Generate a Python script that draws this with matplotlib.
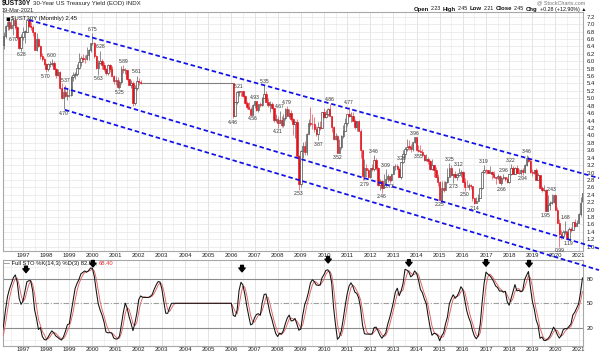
import numpy as np
import pandas as pd
import matplotlib
matplotlib.use("Agg")
import matplotlib.pyplot as plt
from matplotlib.offsetbox import TextArea, HPacker, AnchoredOffsetbox

# ---------------- data (monthly, $UST30Y) ----------------
# segment A: Jan 1995 .. Feb 2002 (1995 / early 1996 only warm up the stochastic)
close_a = [
    7.73, 7.44, 7.43, 7.33, 6.66, 6.63, 6.85, 6.66, 6.51, 6.33, 6.17, 5.95,
    6.05, 6.45, 6.67, 6.96, 7.06, 6.89, 6.97, 7.12, 6.92, 6.64, 6.35, 6.64,
    6.79, 6.80, 7.10, 6.94, 6.91, 6.78, 6.30, 6.61, 6.40, 6.15, 6.05, 5.92,
    5.80, 5.92, 5.93, 5.95, 5.80, 5.62, 5.72, 5.27, 5.00, 5.16, 5.06, 5.09,
    5.09, 5.58, 5.63, 5.66, 5.83, 5.97, 6.10, 6.06, 6.05, 6.16, 6.29, 6.48,
    6.49, 6.14, 5.83, 5.96, 6.01, 5.90, 5.78, 5.67, 5.89, 5.79, 5.61, 5.46,
    5.50, 5.31, 5.44, 5.79, 5.75, 5.76, 5.52, 5.37, 5.42, 4.87, 5.29, 5.47,
    5.43, 5.42]
high_a = [
    7.95, 7.75, 7.58, 7.48, 7.34, 6.75, 6.97, 6.95, 6.70, 6.52, 6.38, 6.18,
    6.14, 6.52, 6.78, 6.97, 7.10, 7.19, 7.14, 7.14, 7.16, 6.95, 6.66, 6.73,
    6.92, 6.84, 7.12, 7.17, 7.06, 6.98, 6.79, 6.75, 6.62, 6.45, 6.22, 6.12,
    5.96, 5.96, 6.01, 6.05, 6.00, 5.83, 5.78, 5.73, 5.40, 5.29, 5.37, 5.24,
    5.25, 5.60, 5.70, 5.70, 5.92, 6.22, 6.13, 6.19, 6.18, 6.37, 6.32, 6.50,
    6.75, 6.52, 6.17, 6.02, 6.28, 6.05, 5.98, 5.81, 5.92, 5.93, 5.87, 5.64,
    5.61, 5.58, 5.49, 5.86, 5.89, 5.82, 5.77, 5.53, 5.50, 5.46, 5.35, 5.61,
    5.54, 5.50]
low_a = [
    7.70, 7.42, 7.35, 7.28, 6.63, 6.47, 6.55, 6.62, 6.45, 6.28, 6.13, 5.94,
    5.93, 6.02, 6.32, 6.62, 6.83, 6.85, 6.86, 6.70, 6.88, 6.62, 6.32, 6.28,
    6.56, 6.50, 6.79, 6.91, 6.85, 6.68, 6.29, 6.28, 6.38, 6.05, 6.00, 5.89,
    5.70, 5.74, 5.84, 5.87, 5.79, 5.55, 5.59, 5.26, 4.98, 4.70, 5.03, 4.96,
    5.04, 5.07, 5.46, 5.51, 5.59, 5.80, 5.88, 5.97, 5.96, 6.03, 6.03, 6.25,
    6.44, 6.10, 5.79, 5.63, 5.93, 5.80, 5.74, 5.64, 5.64, 5.72, 5.59, 5.39,
    5.36, 5.27, 5.25, 5.39, 5.67, 5.65, 5.50, 5.35, 5.29, 4.79, 4.82, 5.23,
    5.37, 5.38]

# no data Mar 2002 .. Jan 2006: flat at the last value
gap_value = 5.42
gap_months = 47

# segment B: Feb 2006 .. Mar 2021
close_b = [
    4.51, 4.90, 5.17, 5.21, 5.19, 5.07, 4.88, 4.77, 4.72, 4.56, 4.81,
    4.93, 4.68, 4.84, 4.81, 5.01, 5.12, 4.91, 4.83, 4.84, 4.73, 4.41, 4.45,
    4.33, 4.42, 4.29, 4.48, 4.71, 4.53, 4.60, 4.43, 4.31, 4.36, 3.45, 2.69,
    3.58, 3.71, 3.56, 4.03, 4.34, 4.32, 4.30, 4.17, 4.03, 4.24, 4.20, 4.64,
    4.49, 4.57, 4.72, 4.53, 4.22, 3.91, 3.99, 3.52, 3.69, 3.99, 4.11, 4.34,
    4.57, 4.51, 4.51, 4.40, 4.22, 4.38, 4.13, 3.60, 2.90, 3.13, 3.06, 2.89,
    3.11, 3.09, 3.35, 3.12, 2.67, 2.76, 2.59, 2.67, 2.82, 2.90, 2.81, 2.95,
    3.17, 3.17, 3.10, 2.89, 3.28, 3.50, 3.64, 3.70, 3.69, 3.63, 3.81, 3.96,
    3.60, 3.59, 3.56, 3.47, 3.33, 3.36, 3.32, 3.09, 3.21, 3.07, 2.89, 2.75,
    2.25, 2.59, 2.54, 2.75, 2.88, 3.11, 2.92, 2.95, 2.87, 2.93, 3.00, 3.01,
    2.75, 2.62, 2.61, 2.67, 2.64, 2.30, 2.18, 2.23, 2.32, 2.58, 3.02, 3.07,
    3.06, 3.00, 3.01, 2.96, 2.87, 2.84, 2.90, 2.73, 2.86, 2.88, 2.83, 2.74,
    2.95, 3.13, 2.97, 3.11, 3.00, 2.98, 3.08, 3.02, 3.21, 3.39, 3.30, 3.02,
    3.00, 3.08, 2.81, 2.93, 2.58, 2.52, 2.53, 1.96, 2.12, 2.17, 2.21, 2.39,
    2.00, 1.65, 1.35, 1.28, 1.41, 1.41, 1.20, 1.49, 1.46, 1.66, 1.57, 1.65,
    1.87, 2.17, 2.45]
high_b = [
    5.42, 4.91, 5.20, 5.21, 5.21, 5.21, 5.08, 4.92, 4.89, 4.76, 4.84,
    4.93, 4.93, 4.86, 4.90, 5.03, 5.35, 5.21, 5.02, 4.94, 4.90, 4.74, 4.59,
    4.52, 4.67, 4.51, 4.57, 4.73, 4.79, 4.72, 4.69, 4.46, 4.40, 4.43, 3.46,
    3.62, 3.83, 3.84, 4.06, 4.44, 4.77, 4.58, 4.49, 4.25, 4.36, 4.40, 4.64,
    4.75, 4.69, 4.74, 4.86, 4.51, 4.25, 4.07, 4.02, 3.90, 4.00, 4.29, 4.47,
    4.59, 4.77, 4.62, 4.62, 4.45, 4.40, 4.41, 4.16, 3.60, 3.36, 3.24, 3.12,
    3.11, 3.22, 3.46, 3.38, 3.16, 2.82, 2.79, 2.97, 3.09, 2.97, 2.91, 2.97,
    3.17, 3.22, 3.22, 3.14, 3.26, 3.60, 3.69, 3.90, 3.88, 3.77, 3.82, 3.96,
    3.96, 3.73, 3.73, 3.63, 3.50, 3.51, 3.41, 3.33, 3.37, 3.21, 3.14, 2.97,
    2.77, 2.78, 2.76, 2.77, 3.11, 3.25, 3.20, 2.97, 3.05, 3.00, 3.12, 3.06,
    3.03, 2.84, 2.79, 2.73, 2.70, 2.64, 2.30, 2.33, 2.42, 2.59, 3.04, 3.19,
    3.10, 3.08, 3.17, 3.04, 3.05, 2.89, 2.95, 2.92, 2.90, 2.96, 2.88, 2.87,
    2.95, 3.22, 3.17, 3.14, 3.20, 3.10, 3.09, 3.11, 3.22, 3.46, 3.44, 3.36,
    3.09, 3.08, 3.13, 2.98, 2.94, 2.64, 2.67, 2.56, 2.40, 2.24, 2.43, 2.40,
    2.42, 2.07, 1.75, 1.46, 1.46, 1.68, 1.46, 1.54, 1.52, 1.67, 1.74, 1.71,
    1.90, 2.34, 2.45]
low_b = [
    4.46, 4.51, 4.86, 5.05, 5.05, 5.04, 4.86, 4.70, 4.70, 4.58, 4.56,
    4.75, 4.66, 4.62, 4.77, 4.80, 5.01, 4.89, 4.77, 4.64, 4.70, 4.35, 4.36,
    4.21, 4.33, 4.23, 4.22, 4.42, 4.51, 4.48, 4.39, 4.01, 3.94, 3.44, 2.53,
    2.62, 3.40, 3.46, 3.48, 4.04, 4.26, 4.18, 4.10, 3.99, 3.87, 4.14, 4.19,
    4.46, 4.48, 4.52, 4.52, 4.09, 3.89, 3.87, 3.52, 3.64, 3.63, 3.92, 4.12,
    4.26, 4.49, 4.37, 4.38, 4.18, 4.13, 4.12, 3.39, 2.81, 2.79, 2.89, 2.85,
    2.85, 3.03, 3.05, 3.07, 2.64, 2.53, 2.46, 2.57, 2.74, 2.75, 2.73, 2.78,
    2.98, 3.06, 3.10, 2.87, 2.82, 3.25, 3.43, 3.59, 3.62, 3.56, 3.58, 3.79,
    3.58, 3.55, 3.56, 3.44, 3.31, 3.32, 3.24, 3.06, 3.07, 2.87, 2.89, 2.63,
    2.25, 2.25, 2.48, 2.52, 2.72, 2.89, 2.91, 2.73, 2.84, 2.80, 2.91, 2.87,
    2.74, 2.50, 2.60, 2.53, 2.55, 2.24, 2.14, 2.18, 2.23, 2.30, 2.56, 2.98,
    2.95, 2.99, 2.98, 2.83, 2.86, 2.69, 2.81, 2.71, 2.66, 2.83, 2.76, 2.71,
    2.71, 2.93, 2.95, 2.95, 2.99, 2.96, 2.94, 2.94, 3.00, 3.17, 3.28, 2.98,
    2.90, 2.97, 2.81, 2.84, 2.57, 2.47, 2.50, 1.95, 1.97, 2.00, 2.15, 2.19,
    1.99, 1.65, 0.99, 1.21, 1.24, 1.35, 1.20, 1.19, 1.39, 1.44, 1.52, 1.58,
    1.64, 1.84, 2.21]

first_year = 1995
first_open = 7.88          # open of Jan 1995
last_open = 2.23           # open of Mar 2021 (header)

# swing labels: (year-month, 'h' above high / 'l' below low, text)
label_months = ['1996-08', '1996-12', '1998-01', '1998-04', '1998-10', '1998-11',
                '2000-01', '2000-04', '2000-05', '2001-03', '2001-05', '2001-12',
                '2006-02', '2006-05', '2006-12', '2007-01', '2007-06', '2008-01',
                '2008-02', '2008-06', '2008-12', '2009-10', '2010-04', '2010-08',
                '2011-02', '2011-10', '2012-03', '2012-07', '2012-09', '2012-11',
                '2013-05', '2013-12', '2014-02', '2015-01', '2015-06', '2015-08',
                '2015-11', '2016-02', '2016-07', '2016-12', '2017-09', '2017-10',
                '2018-02', '2018-08', '2018-10', '2019-08', '2019-11', '2020-03',
                '2020-06', '2020-08']
label_sides = ['l', 'l', 'l', 'h', 'l', 'h',
               'h', 'l', 'h', 'l', 'h', 'h',
               'l', 'h', 'l', 'h', 'h', 'l',
               'h', 'h', 'l', 'l', 'h', 'l',
               'h', 'l', 'h', 'l', 'h', 'l',
               'h', 'h', 'l', 'l', 'h', 'l',
               'h', 'l', 'l', 'h', 'l', 'h',
               'h', 'l', 'h', 'l', 'h', 'l',
               'h', 'l']
label_texts = ['6.70', '6.28', '5.70', '6.00', '4.70', '5.37',
               '6.75', '5.63', '6.28', '5.25', '5.89', '5.61',
               '4.46', '5.21', '4.56', '4.93', '5.35', '4.21',
               '4.67', '4.79', '2.53', '3.87', '4.86', '3.52',
               '4.77', '2.79', '3.46', '2.46', '3.09', '2.73',
               '3.26', '3.96', '3.55', '2.25', '3.25', '2.73',
               '3.12', '2.50', '2.14', '3.19', '2.66', '2.96',
               '3.22', '2.94', '3.46', '1.95', '2.43', '0.99',
               '1.68', '1.19']

# drawn trend channel lines: (date, yield) end points
trend_upper = [(1997.26, 7.11), (2021.88, 2.85)]
trend_mid = [(1998.77, 5.28), (2021.88, 0.95)]
trend_low = [(1998.81, 4.69), (2021.88, 0.37)]

# arrow annotations on the stochastic panel (date, tip level)
arrow_dates = [1997.13, 2000.02, 2006.46, 2010.18, 2013.67, 2017.00, 2018.86]
arrow_tips = [88, 95, 89, 100, 96, 96, 95]

years = list(range(1997, 2022))
yticks_main = [round(1.0 + 0.2 * i, 1) for i in range(32)]

# ---------------- assemble series ----------------
close = close_a + [gap_value] * gap_months + close_b
high = high_a + [gap_value] * gap_months + high_b
low = low_a + [gap_value] * gap_months + low_b
n = len(close)
t = first_year + np.arange(n) / 12.0
opens = [first_open] + close[:-1]
opens[-1] = last_open
close = np.array(close); opens = np.array(opens)
high = np.maximum.reduce([np.array(high), opens, close])
low = np.minimum.reduce([np.array(low), opens, close])
gap_start = len(close_a) - 1              # Feb 2002
gap_end = len(close_a) + gap_months       # Feb 2006
is_gap = np.zeros(n, bool)
is_gap[len(close_a):gap_end] = True

def midx(s):
    y, m = s.split('-')
    return (int(y) - first_year) * 12 + int(m) - 1

# Full stochastic %K(14,3) %D(3)
sc, sh, sl = pd.Series(close), pd.Series(high), pd.Series(low)
hh = sh.rolling(14, min_periods=1).max()
ll = sl.rolling(14, min_periods=1).min()
rng = (hh - ll).values
raw = np.where(rng > 1e-9, 100 * (sc.values - ll.values) / np.where(rng > 1e-9, rng, 1), 50.0)
pk = pd.Series(raw).rolling(3, min_periods=1).mean()
pd_ = pk.rolling(3, min_periods=1).mean()

# ---------------- figure ----------------
W, H = 600, 351
fig = plt.figure(figsize=(W / 100, H / 100), dpi=100)
fig.patch.set_facecolor('white')
FONT = ['Liberation Sans', 'DejaVu Sans']
plt.rcParams['font.family'] = FONT

def fx(px): return px / W
def fy(py): return 1 - py / H

ax = fig.add_axes([fx(3), fy(251), fx(583) - fx(3), fy(12) - fy(251)])
ax2 = fig.add_axes([fx(3), fy(345.5), fx(583) - fx(3), fy(260) - fy(345.5)])
ax.set_zorder(3)

xlo, xhi = 1996.136, 2021.19
for a in (ax, ax2):
    a.set_xlim(xlo, xhi)
    for s in a.spines.values():
        s.set_color('#a8a8a8'); s.set_linewidth(0.8)
    for yr in range(1996, 2022):
        a.axvline(yr, color='#d9d9d9', lw=0.5, zorder=0)
        a.axvline(yr + 0.5, color='#ececec', lw=0.5, zorder=0)
    a.set_xticks(years)
    a.set_xticklabels([str(y) for y in years])
    a.yaxis.tick_right()
    a.tick_params(axis='x', length=0, labelsize=4.3, pad=1.2, colors='#222')
    a.tick_params(axis='y', length=0, labelsize=4.3, pad=2.5, colors='#222')

# main panel
ax.set_ylim(0.8846, 7.3267)
for v in yticks_main:
    ax.axhline(v, color='#e6e6e6', lw=0.5, zorder=0)
ax.set_yticks(yticks_main)
ax.set_yticklabels(['%.1f' % v for v in yticks_main])

vis = (~is_gap) & (t >= xlo - 0.1)
idx = np.where(vis)[0]
up = close[idx] >= opens[idx]
red = '#e0141e'
for i, u in zip(idx, up):
    col = '#3a3a3a' if u else red
    ax.vlines(t[i], low[i], high[i], color=('#7a7a7a' if u else '#e86a70'), lw=0.6, zorder=2)
    b0 = min(opens[i], close[i]); b1 = max(opens[i], close[i])
    hgt = max(b1 - b0, 0.012)
    ax.bar(t[i], hgt, bottom=b0, width=0.062, facecolor=('white' if u else red),
           edgecolor=col, linewidth=0.45, zorder=3)
ax.hlines(gap_value, t[gap_start], t[gap_end], color='#808080', lw=0.8, zorder=2)

for m, side, txt in zip(label_months, label_sides, label_texts):
    i = midx(m)
    if side == 'h':
        ax.annotate(txt, (t[i], high[i]), xytext=(0, 1.0), textcoords='offset points',
                    ha='center', va='bottom', fontsize=3.6, color='#333', zorder=6)
    else:
        ax.annotate(txt, (t[i], low[i]), xytext=(0, -1.0), textcoords='offset points',
                    ha='center', va='top', fontsize=3.6, color='#333', zorder=6)

for ln in (trend_upper, trend_mid, trend_low):
    (x0, y0), (x1, y1) = ln
    ax.plot([x0, x1], [y0, y1], color='#1010e8', lw=1.25, ls=(0, (2.6, 1.6)),
            clip_on=False, zorder=7)

# main legend
ax.text(0.004, 0.985, '\u25aa', transform=ax.transAxes, fontsize=5, va='top', ha='left',
        family=['DejaVu Sans'])
ax.text(0.014, 0.985, '$UST30Y (Monthly) 2.45', transform=ax.transAxes, fontsize=4.3,
        va='top', ha='left', color='#111')

# stochastic panel
ax2.set_ylim(-2.3, 103.65)
for v in (5, 35, 65, 95):
    ax2.axhline(v, color='#ececec', lw=0.5, zorder=0)
ax2.axhline(80, color='#8c8c8c', lw=0.8, zorder=1)
ax2.axhline(20, color='#8c8c8c', lw=0.8, zorder=1)
ax2.axhline(50, color='#a0a0a0', lw=0.8, ls=(0, (5, 1.5, 1, 1.5)), zorder=1)
ax2.set_yticks([20, 50, 80])
ax2.set_yticklabels(['20', '50', '80'])
sv = t >= xlo - 0.1
ax2.plot(t[sv], pd_.values[sv], color='#e06060', lw=0.65, zorder=3)
ax2.plot(t[sv], pk.values[sv], color='#111111', lw=0.75, zorder=4)
for ta, sa in zip(arrow_dates, arrow_tips):
    ax2.annotate('', xy=(ta, sa), xytext=(ta, sa + 8),
                 arrowprops=dict(arrowstyle='simple,head_width=0.9,head_length=0.55,tail_width=0.4',
                                 color='black', mutation_scale=5, shrinkA=0, shrinkB=0), zorder=6)

leg = HPacker(children=[
    TextArea('\u2014 Full STO %K(14,3) %D(3) 82.58,', textprops=dict(size=4.2, color='#111')),
    TextArea('68.40', textprops=dict(size=4.2, color='#e03030'))], sep=1.5, pad=0)
ab = AnchoredOffsetbox(loc='center left', child=leg, bbox_to_anchor=(fx(4), fy(263.5)),
                       bbox_transform=fig.transFigure, frameon=False, pad=0, borderpad=0)
ab.set_zorder(8)
fig.add_artist(ab)

# header texts
hdr = HPacker(children=[
    TextArea('$UST30Y', textprops=dict(size=4.9, weight='bold', color='#111')),
    TextArea('30-Year US Treasury Yield (EOD) INDX', textprops=dict(size=4.4, color='#222'))],
    sep=1.5, pad=0)
fig.add_artist(AnchoredOffsetbox(loc='center left', child=hdr, bbox_to_anchor=(fx(2), fy(4)),
                                 bbox_transform=fig.transFigure, frameon=False, pad=0, borderpad=0))
fig.text(fx(2), fy(10), '19-Mar-2021', fontsize=4.1, color='#222', ha='left', va='center')
fig.text(fx(585), fy(3), '@ StockCharts.com', fontsize=3.9, color='#777', ha='right', va='center')

parts = [('Open', True), ('2.23', False), ('High', True), ('2.45', False), ('Low', True),
         ('2.21', False), ('Close', True), ('2.45', False), ('Chg', True),
         ('+0.28 (+12.90%) \u25b2', False)]
ohlc = HPacker(children=[TextArea(s, textprops=dict(size=(4.3 if b else 3.8),
                                                      weight=('bold' if b else 'normal'),
                                                      color='#111', family=FONT))
                         for s, b in parts], sep=1.3, pad=0, align='baseline')
fig.add_artist(AnchoredOffsetbox(loc='center right', child=ohlc, bbox_to_anchor=(fx(586), fy(9)),
                                 bbox_transform=fig.transFigure, frameon=False, pad=0, borderpad=0))

fig.savefig('out.png', dpi=100, facecolor='white')
